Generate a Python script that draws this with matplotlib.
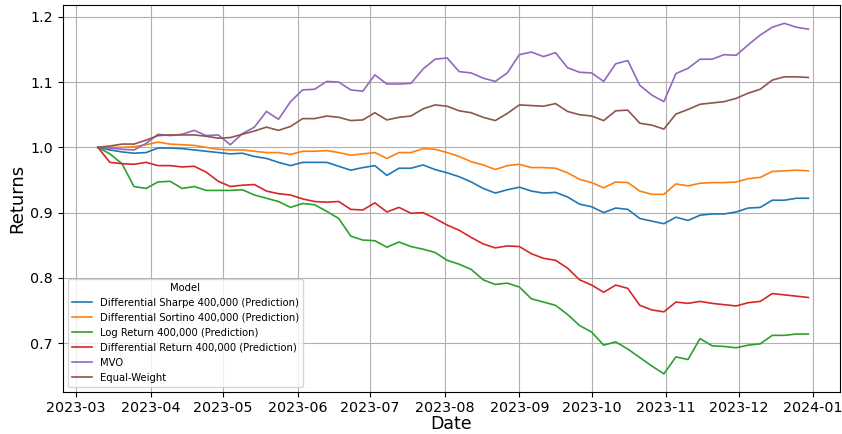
import matplotlib
matplotlib.use("Agg")
import matplotlib.pyplot as plt
import matplotlib.dates as mdates
import pandas as pd

# portfolio value sampled every 5 days over the 2023 test window
dates = pd.date_range("2023-03-10", periods=60, freq="5D")

sharpe = [1.000, 0.996, 0.993, 0.991, 0.992, 0.999, 0.999, 0.998, 0.996, 0.994,
          0.992, 0.990, 0.991, 0.986, 0.983, 0.977, 0.972, 0.977, 0.977, 0.977,
          0.971, 0.965, 0.969, 0.972, 0.957, 0.968, 0.968, 0.973, 0.966, 0.961,
          0.955, 0.947, 0.937, 0.930, 0.935, 0.939, 0.933, 0.930, 0.931, 0.924,
          0.913, 0.909, 0.900, 0.907, 0.905, 0.891, 0.887, 0.883, 0.893, 0.888,
          0.896, 0.898, 0.898, 0.901, 0.907, 0.908, 0.919, 0.919, 0.922, 0.922]

sortino = [1.000, 1.000, 1.000, 1.001, 1.004, 1.008, 1.005, 1.004, 1.003, 1.000,
           0.997, 0.996, 0.996, 0.994, 0.992, 0.992, 0.989, 0.994, 0.994, 0.995,
           0.992, 0.988, 0.990, 0.992, 0.983, 0.992, 0.992, 0.998, 0.997, 0.992,
           0.986, 0.978, 0.973, 0.966, 0.972, 0.974, 0.969, 0.969, 0.968, 0.961,
           0.951, 0.946, 0.938, 0.947, 0.946, 0.933, 0.928, 0.928, 0.944, 0.941,
           0.945, 0.946, 0.946, 0.947, 0.952, 0.954, 0.963, 0.964, 0.965, 0.964]

log_return = [1.000, 0.990, 0.975, 0.940, 0.937, 0.947, 0.948, 0.937, 0.940, 0.934,
              0.934, 0.934, 0.935, 0.927, 0.922, 0.917, 0.908, 0.914, 0.912, 0.902,
              0.891, 0.864, 0.858, 0.857, 0.847, 0.855, 0.848, 0.844, 0.839, 0.827,
              0.821, 0.813, 0.797, 0.790, 0.792, 0.786, 0.768, 0.763, 0.758, 0.744,
              0.727, 0.717, 0.697, 0.702, 0.691, 0.678, 0.665, 0.653, 0.679, 0.675,
              0.707, 0.696, 0.695, 0.693, 0.697, 0.699, 0.712, 0.712, 0.714, 0.714]

diff_return = [1.000, 0.977, 0.975, 0.974, 0.977, 0.972, 0.972, 0.970, 0.971, 0.962,
               0.948, 0.940, 0.942, 0.943, 0.933, 0.929, 0.927, 0.921, 0.917, 0.916,
               0.917, 0.905, 0.904, 0.915, 0.901, 0.908, 0.899, 0.900, 0.891, 0.881,
               0.873, 0.862, 0.852, 0.846, 0.849, 0.848, 0.837, 0.830, 0.827, 0.815,
               0.797, 0.789, 0.778, 0.789, 0.784, 0.758, 0.751, 0.748, 0.763, 0.761,
               0.764, 0.761, 0.759, 0.757, 0.762, 0.764, 0.776, 0.774, 0.772, 0.770]

mvo = [1.000, 0.999, 0.997, 0.996, 1.006, 1.020, 1.018, 1.020, 1.026, 1.018,
       1.019, 1.004, 1.021, 1.031, 1.055, 1.043, 1.070, 1.088, 1.089, 1.101,
       1.100, 1.088, 1.086, 1.111, 1.097, 1.097, 1.098, 1.120, 1.135, 1.137,
       1.116, 1.114, 1.106, 1.101, 1.114, 1.142, 1.146, 1.139, 1.145, 1.122,
       1.115, 1.114, 1.101, 1.128, 1.133, 1.095, 1.080, 1.070, 1.113, 1.121,
       1.135, 1.135, 1.142, 1.141, 1.157, 1.172, 1.184, 1.190, 1.184, 1.181]

equal_weight = [1.000, 1.002, 1.005, 1.005, 1.011, 1.018, 1.019, 1.019, 1.019, 1.017,
                1.014, 1.015, 1.020, 1.025, 1.031, 1.026, 1.032, 1.044, 1.044, 1.048,
                1.046, 1.041, 1.042, 1.053, 1.042, 1.046, 1.048, 1.059, 1.065, 1.063,
                1.056, 1.053, 1.046, 1.041, 1.052, 1.065, 1.064, 1.063, 1.067, 1.055,
                1.050, 1.048, 1.041, 1.056, 1.057, 1.037, 1.034, 1.028, 1.051, 1.058,
                1.066, 1.068, 1.070, 1.075, 1.083, 1.089, 1.103, 1.108, 1.108, 1.107]

labels = ["Differential Sharpe 400,000 (Prediction)",
          "Differential Sortino 400,000 (Prediction)",
          "Log Return 400,000 (Prediction)",
          "Differential Return 400,000 (Prediction)",
          "MVO",
          "Equal-Weight"]
series = [sharpe, sortino, log_return, diff_return, mvo, equal_weight]

fig = plt.figure(figsize=(8.42, 4.34), dpi=100)
ax = fig.add_axes([0.0745, 0.0975, 0.9235, 0.8915])

for values, label in zip(series, labels):
    ax.plot(dates, values, label=label, linewidth=1.2)

ax.set_xlim(pd.Timestamp("2023-02-23 10:00"), pd.Timestamp("2024-01-12 06:00"))
ax.set_ylim(0.6257, 1.2184)
ax.xaxis.set_major_locator(mdates.MonthLocator())
ax.xaxis.set_major_formatter(mdates.DateFormatter("%Y-%m"))
ax.tick_params(labelsize=10.3)
ax.set_xlabel("Date", fontsize=12.5, labelpad=0)
ax.set_ylabel("Returns", fontsize=13, labelpad=3)
ax.grid(True)
ax.legend(title="Model", loc="lower left", fontsize=7.2, title_fontsize=7.2)

fig.savefig("out.png", dpi=100)
